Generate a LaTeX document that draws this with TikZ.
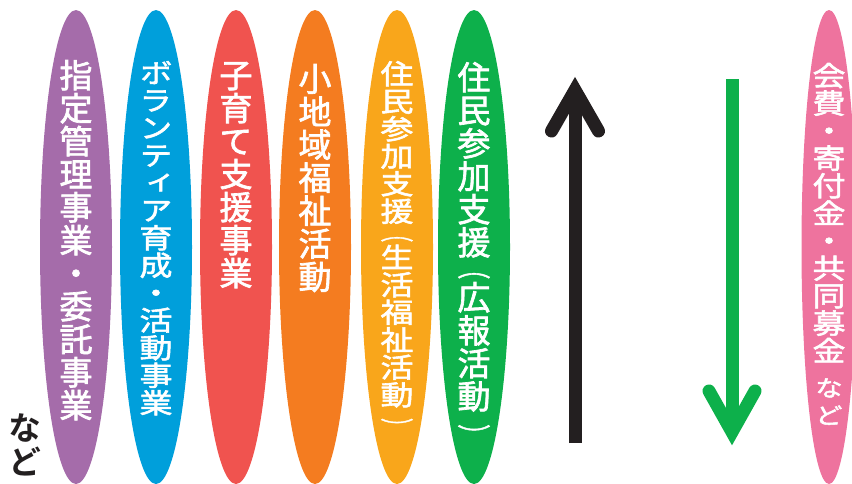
\documentclass[tikz,border=0pt]{standalone}
\usepackage{fontspec}
\usepackage{graphicx}
\usepackage{xcolor}
\usepackage{tikz}
\usetikzlibrary{arrows.meta,positioning,shapes.geometric}
\newfontfamily\jpfont[RawFeature={+vert},FakeBold=2]{Noto Sans CJK JP}
\newfontfamily\jpwide[RawFeature={+vert},FakeBold=2,FakeStretch=1.2]{Noto Sans CJK JP}
\newfontfamily\jpheavy[RawFeature={+vert}]{Noto Sans CJK JP Bold}
\newcommand{\halfglyph}[1]{\scalebox{1}[0.6]{#1}}
\definecolor{PillPurple}{HTML}{A56CAA}
\definecolor{PillBlue}{HTML}{009FDB}
\definecolor{PillRed}{HTML}{F0534F}
\definecolor{PillOrange}{HTML}{F47C20}
\definecolor{PillYellow}{HTML}{F9A61B}
\definecolor{PillGreen}{HTML}{0DB04B}
\definecolor{PillPink}{HTML}{EE739E}
\definecolor{InkBlack}{HTML}{231F20}
\tikzset{
  pill/.style={ellipse,minimum width=72pt,minimum height=474pt,inner sep=0pt},
  tate/.style={inner sep=0pt,align=center,text=white,font={\jpfont\fontsize{33}{33}\selectfont\lineskiplimit=-100pt}},
  tatewide/.style={tate,font={\jpwide\fontsize{27.5}{27.5}\selectfont\lineskiplimit=-100pt}},
  shaft/.style={line width=13pt},
  barb/.style={line width=13pt,line cap=round,line join=miter}
}

\begin{document}
\begin{tikzpicture}[x=1pt,y=-1pt]
  \useasboundingbox (0,0) rectangle (852,483);
  % activities
  \node[pill,fill=PillPurple] (p1) at (76,247) {};
  \node[pill,fill=PillBlue] (p2) at (156,247) {};
  \node[pill,fill=PillRed] (p3) at (236,247) {};
  \node[pill,fill=PillOrange] (p4) at (315,247) {};
  \node[pill,fill=PillYellow] (p5) at (397,247) {};
  \node[pill,fill=PillGreen] (p6) at (474,247) {};
  \node[tate,below=50pt of p1.north] (t1) {指\\定\\管\\理\\事\\業\\・\\委\\託\\事\\業};
  \node[tatewide,below=51pt of p2.north] (t2) {ボ\\ラ\\ン\\テ\\ィ\\ア\\育\\成\\・\\活\\動\\事\\業};
  \node[tate,below=52pt of p3.north] (t3) {子\\育\\て\\支\\援\\事\\業};
  \node[tate,below=54pt of p4.north] (t4) {小\\地\\域\\福\\祉\\活\\動};
  \node[tatewide,below=51pt of p5.north] (t5) {住\\民\\参\\加\\支\\援\\[-9pt]\halfglyph{（}\\生\\活\\福\\祉\\活\\動\\\halfglyph{）}};
  \node[tate,below=52pt of p6.north] (t6) {住\\民\\参\\加\\支\\援\\[-11pt]\halfglyph{（}\\広\\報\\活\\動\\\halfglyph{）}};
  \node[tate,text=InkBlack,font={\jpheavy\fontsize{33}{34}\selectfont},anchor=north] (etc) at (25,414) {な\\ど};
  % income
  \node[pill,fill=PillPink,minimum width=55pt] (p7) at (829,247) {};
  \node[tatewide,below=53pt of p7.north] (t7) {会\\費\\・\\寄\\付\\金\\・\\共\\同\\募\\金\\[8pt]{\fontsize{23}{23}\selectfont な}\\{\fontsize{23}{23}\selectfont ど}};
  % flows
  \coordinate (upTail) at (575,443);
  \coordinate (upTip) at (575,90);
  \coordinate (downTail) at (732,79);
  \coordinate (downTip) at (732,432);
  \draw[InkBlack,shaft] (upTail) -- (upTip);
  \draw[InkBlack,barb] (upTip) ++(-23.5,41) -- (upTip) -- ++(23.5,41);
  \draw[PillGreen,shaft] (downTail) -- (downTip);
  \draw[PillGreen,barb] (downTip) ++(-23,-41) -- (downTip) -- ++(23,-41);
\end{tikzpicture}
\end{document}
